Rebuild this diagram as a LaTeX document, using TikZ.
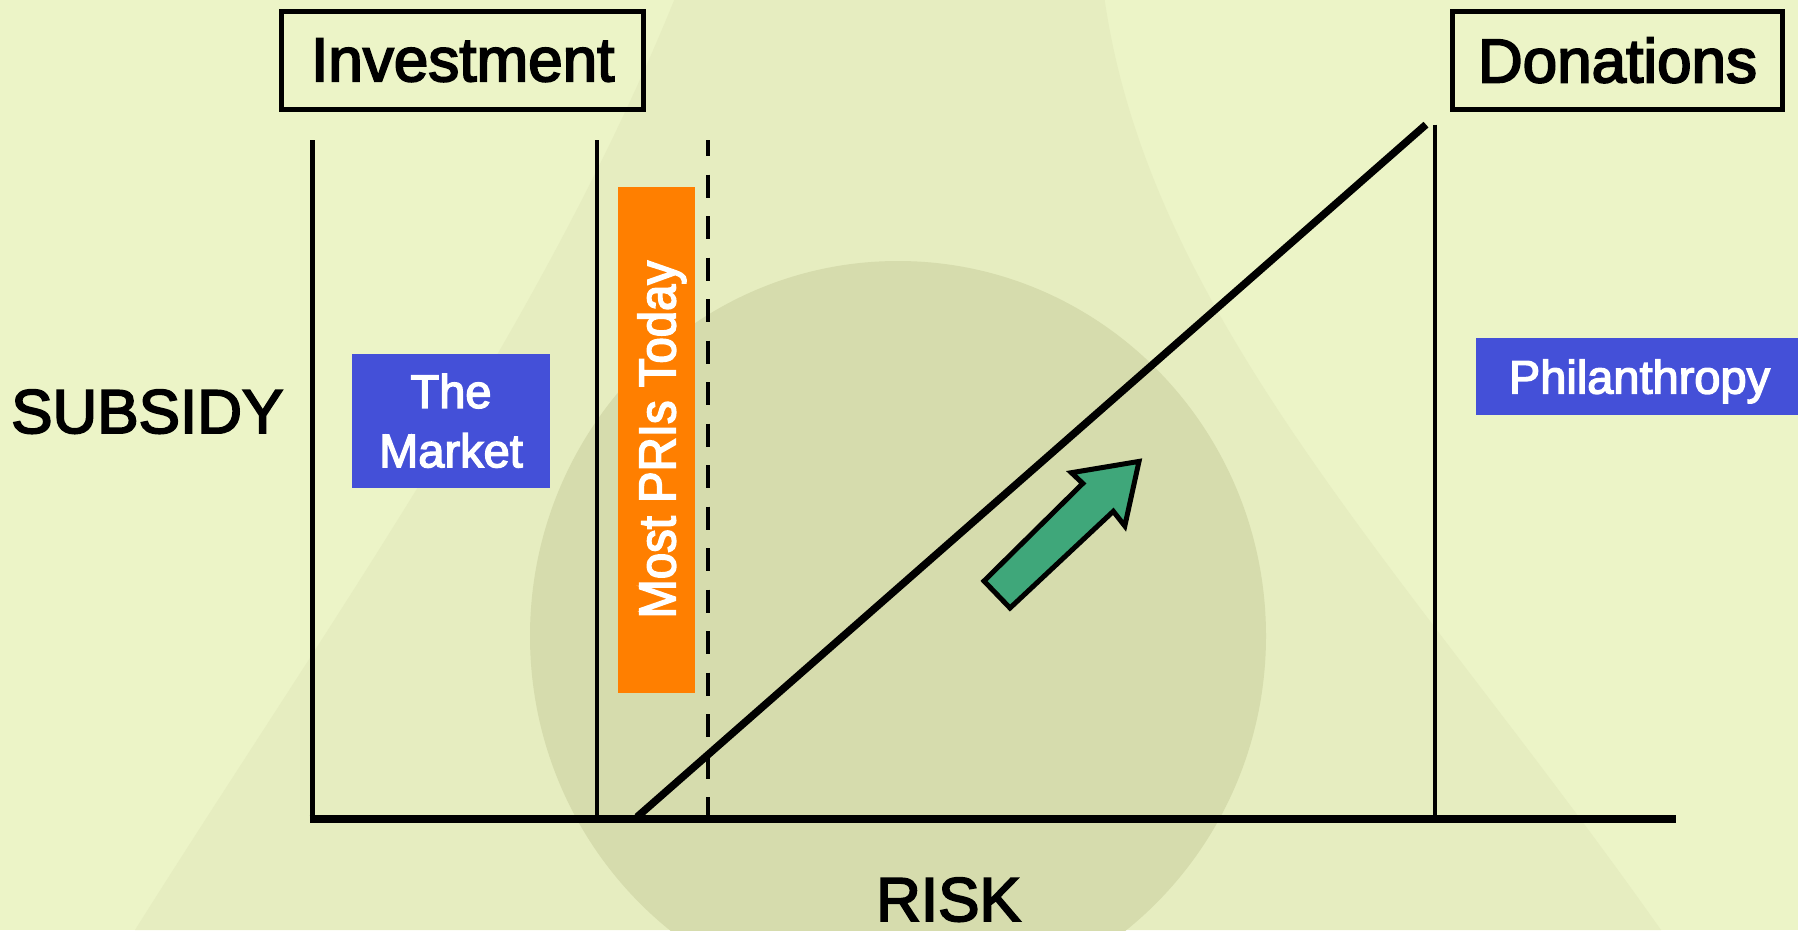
\documentclass[tikz,border=0pt]{standalone}
\usepackage{fontspec}
\setmainfont[FakeBold=3]{Liberation Sans}
\newfontfamily\narrowsf[FakeStretch=0.91,FakeBold=3]{Liberation Sans}
\definecolor{bgpale}{HTML}{ECF4C7}
\definecolor{bgmid}{HTML}{E6EDC0}
\definecolor{bgdark}{HTML}{D6DCAD}
\definecolor{tagblue}{HTML}{4450D8}
\definecolor{priorange}{HTML}{FF7F00}
\definecolor{upgreen}{HTML}{3FA77A}

\begin{document}
\begin{tikzpicture}[x=1pt,y=-1pt,
  hdr/.style={draw=black,line width=4.6pt,minimum width=#1,minimum height=98pt,inner sep=0pt,font=\fontsize{62}{70}\selectfont},
  tag/.style={fill=tagblue,text=white,inner sep=0pt,align=center,font=\fontsize{47}{59.3}\selectfont},
  lbl/.style={inner sep=0pt,font=\fontsize{62}{70}\selectfont},
  ax/.style={line width=7.5pt},
  sep/.style={line width=4.5pt}]
\useasboundingbox (0,0) rectangle (1798,930);
\clip (0,0) rectangle (1798,930);
% backdrop
\fill[bgpale](0,0) rectangle (1798,930);
\fill[bgmid](690,-40) .. controls (560,300) and (330,620) .. (135,930) -- (1661,930)
  .. controls (1400,560) and (1130,300) .. (1100,-40) -- cycle;
\fill[bgdark](898,636) ellipse [x radius=368,y radius=375];

% headers and labels
\node[hdr=362pt](inv) at (462.75,60.2){Investment};
\node[hdr=330.4pt](don) at (1617.5,60.2){Donations};
\node[lbl,anchor=base west](sub) at (11,433){SUBSIDY};
\node[lbl,anchor=base](risk) at (948.5,921){RISK};
\node[tag,minimum width=198pt,minimum height=133.5pt](mkt) at (451,420.75){The\\Market};
\node[tag,minimum width=327pt,minimum height=77pt,text depth=0pt](phil) at (1639.5,376.5){Philanthropy};
\node[fill=priorange,text=white,rotate=90,minimum width=506pt,minimum height=77pt,inner sep=0pt,
  text depth=0pt,font=\narrowsf\fontsize{52}{60}\selectfont](pri) at (656.5,439.75){Most PRIs Today};

% axes and zone borders
\coordinate (o) at (312,819);
\coordinate (ytop) at (312,140);
\coordinate (xend) at (1676,819);
\coordinate (m1) at (597,140);  \coordinate (m1b) at (597,819);
\coordinate (d1) at (708,140);  \coordinate (d1b) at (708,819);
\coordinate (r1) at (1435,124.6); \coordinate (r1b) at (1435,819);
\coordinate (s0) at (637,817);  \coordinate (s1) at (1426,124.6);
\draw[line width=5pt](ytop) -- ([yshift=-3.5pt]o);
\draw[sep](m1) -- (m1b);
\draw[sep,dash pattern=on 23pt off 18.5pt,dash phase=7pt](d1) -- (d1b);
\draw[sep](r1) -- (r1b);
\draw[ax](s0) -- (s1);
\draw[ax]([xshift=-2.5pt]o) -- (xend);

% rising block arrow
\draw[line width=5pt,fill=upgreen,line join=miter](984,581) -- (1082.8,483.4) -- (1071.4,472.7)
  -- (1139,461.4) -- (1124.8,526) -- (1113.3,511.3) -- (1010,608) -- cycle;
\end{tikzpicture}
\end{document}
